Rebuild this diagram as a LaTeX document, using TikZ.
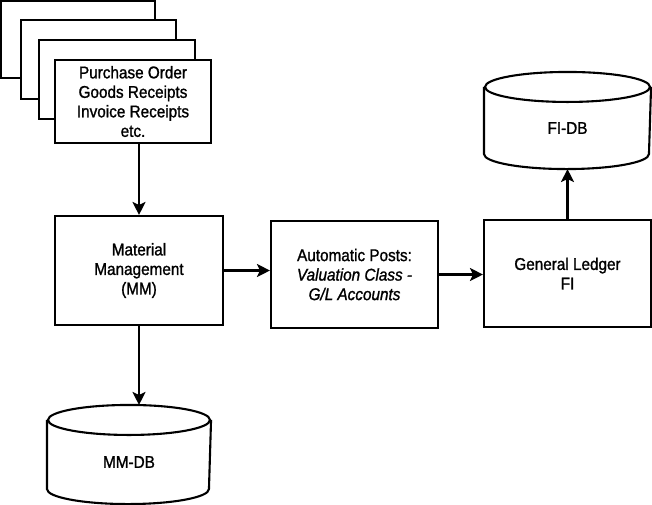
\documentclass[tikz,border=0pt]{standalone}
\usepackage{fontspec}
\setmainfont{Liberation Sans}[FakeStretch=0.9,FakeBold=1.2]
\usetikzlibrary{arrows.meta,calc}
\newcommand\dbcyl[2]{%
  \draw[fill=white] ($(#1.north west)$) -- ($(#1.south west)+(0,-15)$)
    arc[start angle=180,end angle=0,x radius=#2,y radius=15]
    -- ($(#1.north east)$);
  \draw[fill=white] (#1.north) ellipse[x radius=#2, y radius=15];
}
\begin{document}
\begin{tikzpicture}[x=1pt,y=-1pt,line width=2.1pt,
  box/.style={draw,fill=white,inner sep=0pt,align=center,
    font=\fontsize{17}{19.5}\selectfont},
  dbnode/.style={inner sep=0pt,align=center,font=\fontsize{17}{19.5}\selectfont},
  arr/.style={-{Stealth[length=13pt,width=13pt,inset=3pt]},line width=2.1pt}]
\useasboundingbox (0,0) rectangle (652,504);
\fill[white] (0,0) rectangle (652,504);
% stacked papers
\node[box,minimum width=154pt,minimum height=77pt] (p1) at (78,39.5) {};
\node[box,minimum width=155pt,minimum height=79pt] (p2) at (98.5,59.5) {};
\node[box,minimum width=156pt,minimum height=79pt] (p3) at (117,79.5) {};
\node[box,minimum width=156pt,minimum height=83pt] (front) at (133,101.5)
  {Purchase Order\\Goods Receipts\\Invoice Receipts\\etc.};
% main boxes
\node[box,minimum width=168pt,minimum height=109pt] (mm) at (139,270.5)
  {Material\\Management\\(MM)};
\node[box,minimum width=167pt,minimum height=107pt] (auto) at (354.5,274.5)
  {Automatic Posts:\\\itshape Valuation Class -\\\itshape G/L Accounts};
\node[box,minimum width=167pt,minimum height=107pt] (gl) at (567.5,273.5)
  {General Ledger\\FI};
% databases
\node[dbnode,minimum width=165pt,minimum height=80pt] (fidb) at (567.5,128) {};
\dbcyl{fidb}{82.5}
\node[dbnode] (fidbt) at (fidb.center) {FI-DB};
\node[dbnode,minimum width=162pt,minimum height=82pt] (mmdb) at (129,462) {};
\dbcyl{mmdb}{81}
\node[dbnode] (mmdbt) at (mmdb.center) {MM-DB};
% connectors
\draw[arr] (front.south -| mm.north) -- (mm.north);
\draw[arr] (mm.east) -- (mm.east -| auto.west);
\draw[arr] (auto.east) -- (auto.east -| gl.west);
\draw[arr] (gl.north) -- (fidb.south);
\draw[arr] (mm.south) -- ($(mm.south |- mmdb.north)+(0,-15)$);
\end{tikzpicture}
\end{document}
